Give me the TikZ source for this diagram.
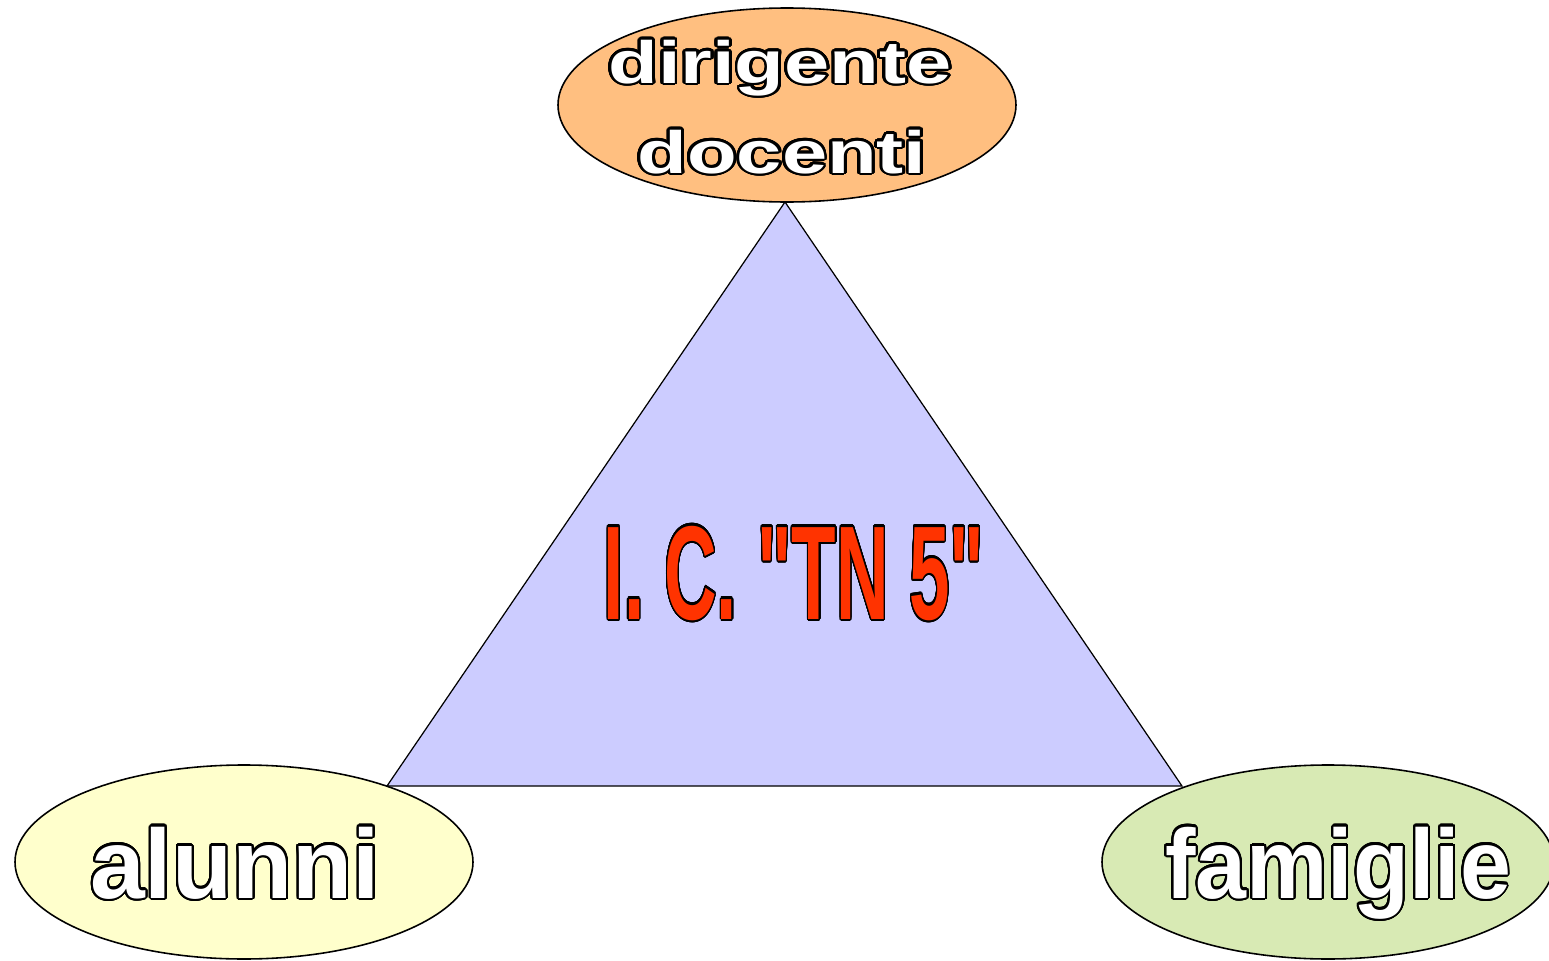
\documentclass[tikz,border=0pt]{standalone}
\usepackage{fontspec}
\setmainfont{Liberation Sans}
\newfontfamily\rawsans{Liberation Sans}[Ligatures=TeXOff]
\usepackage{contour}
\contourlength{0.6pt}
\contournumber{32}
\usetikzlibrary{calc, shapes.geometric, positioning}

\definecolor{dirfill}{RGB}{255,191,128}
\definecolor{alufill}{RGB}{255,255,204}
\definecolor{famfill}{RGB}{216,234,180}
\definecolor{trifill}{RGB}{204,204,255}
\definecolor{icred}{RGB}{255,51,0}

\newcommand{\wordart}[2][white]{{\color{#1}\contour{black}{#2}}}

\begin{document}
\begin{tikzpicture}[
    blob/.style={draw=black, line width=0.45pt, ellipse, inner sep=0pt, minimum height=1.94cm},
    blobtext/.style={anchor=base, inner sep=0pt, font=\bfseries\fontsize{28}{30}\selectfont}
  ]
    \useasboundingbox (0,0) rectangle (15.49,9.60);

    \coordinate (apex) at (7.85,7.58);
    \coordinate (baseL) at (3.87,1.74);
    \coordinate (baseR) at (11.82,1.74);

    \draw[fill=trifill, line width=0.35pt, line join=miter] (apex) -- (baseR) -- (baseL) -- cycle;

    \node[blob, fill=dirfill, minimum width=4.58cm] (dirigente) at (7.87,8.55) {};
    \node[blob, fill=alufill, minimum width=4.58cm] (alunni) at (2.44,0.98) {};
    \node[blob, fill=famfill, minimum width=4.52cm] (famiglie) at (13.28,0.98) {};

    \node[blobtext, font=\bfseries\fontsize{17}{18}\selectfont] (dirText) at (7.80,8.77) {\scalebox{1.36}[1]{\wordart{dirigente}}};
    \node[blobtext, font=\bfseries\fontsize{17}{18}\selectfont] (docText) at (7.82,7.87) {\scalebox{1.36}[1]{\wordart{docenti}}};
    \node[blobtext] (aluText) at (2.35,0.62) {\wordart{alunni}};
    \node[blobtext] (famText) at (13.38,0.62) {\scalebox{0.93}[1]{\wordart{famiglie}}};

    \node[blobtext, font=\rawsans\bfseries\fontsize{38}{40}\selectfont] (school) at (7.94,3.41) {\scalebox{0.545}[1]{\wordart[icred]{I. C. "TN 5"}}};
\end{tikzpicture}
\end{document}
